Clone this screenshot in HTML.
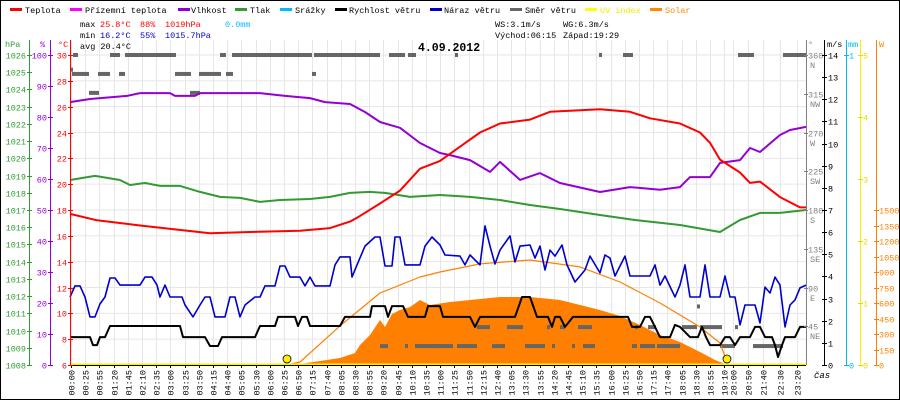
<!DOCTYPE html>
<html><head><meta charset="utf-8"><style>
html,body{margin:0;padding:0;background:#fff}
svg{display:block;font-family:"Liberation Mono","DejaVu Sans Mono",monospace}
</style></head><body>
<svg id="chart" width="900" height="400" viewBox="0 0 900 400" xmlns="http://www.w3.org/2000/svg">
<rect x="0.5" y="0.5" width="899" height="399" fill="#fff" stroke="#000"/>
<g id="grid"></g>
<g id="marks"></g>
<g id="axes"></g>
<g font-size="8.5">
 <g><rect x="10" y="8" width="12" height="3" fill="#f00"/><text x="25" y="13">Teplota</text></g>
 <g><rect x="70" y="8" width="12" height="3" fill="#f0f"/><text x="85" y="13">Přízemní teplota</text></g>
 <g><rect x="178" y="8" width="12" height="3" fill="#9400d3"/><text x="191" y="13">Vlhkost</text></g>
 <g><rect x="235" y="8" width="12" height="3" fill="#393"/><text x="250" y="13">Tlak</text></g>
 <g><rect x="280" y="8" width="12" height="3" fill="#0bf"/><text x="295" y="13">Srážky</text></g>
 <g><rect x="335" y="8" width="12" height="3" fill="#000"/><text x="349" y="13">Rychlost větru</text></g>
 <g><rect x="430" y="8" width="12" height="3" fill="#00c"/><text x="444" y="13">Náraz větru</text></g>
 <g><rect x="510" y="8" width="12" height="3" fill="#666"/><text x="525" y="13">Směr větru</text></g>
 <g><rect x="585" y="8" width="12" height="3" fill="#ff0"/><text x="600" y="13" fill="#ee0">UV index</text></g>
 <g><rect x="650" y="8" width="12" height="3" fill="#f80"/><text x="665" y="13" fill="#f80">Solar</text></g>
</g>
<g font-size="8.5">
 <text x="80" y="27">max</text>
 <text x="100" y="27" fill="#f00">25.8°C</text>
 <text x="140" y="27" fill="#f00">88%</text>
 <text x="165" y="27" fill="#f00">1019hPa</text>
 <text x="225" y="27" fill="#0bf">0.0mm</text>
 <text x="80" y="38">min</text>
 <text x="100" y="38" fill="#00c">16.2°C</text>
 <text x="140" y="38" fill="#00c">55%</text>
 <text x="165" y="38" fill="#00c">1015.7hPa</text>
 <text x="80" y="49">avg 20.4°C</text>
 <text x="495" y="27">WS:3.1m/s</text>
 <text x="563" y="27">WG:6.3m/s</text>
 <text x="495" y="38">Východ:06:15</text>
 <text x="563" y="38">Západ:19:29</text>
 <text x="418" y="51" font-size="11.5" font-weight="bold">4.09.2012</text>
</g>
</svg>
<script>
// ---- data (time in sample units, 0..184) ----
const xLabels=["00:00","00:25","00:55","01:20","01:45","02:10","02:35","03:00","03:25","03:50","04:15","04:40","05:05","05:30","06:00","06:25","06:50","07:15","07:40","08:05","08:30","08:55","09:20","09:45","10:10","10:35","11:00","11:25","11:50","12:15","12:40","13:05","13:30","13:55","14:20","14:45","15:10","15:35","16:00","16:25","16:50","17:15","17:40","18:05","18:30","18:55","19:10","20:00","20:50","21:40","22:30","23:20"];
const tempT=[0,6.75,17.5,26.25,35,45,57.5,65,70,71.75,77.5,82.5,87.5,92.5,97.5,102.5,107.5,115,120,132.5,140,145,152.5,157.5,160,162.5,167.5,170,172.5,177.5,182.5,184];
const tempV=[17.7,17.2,16.8,16.5,16.2,16.3,16.4,16.6,17.1,17.4,18.5,19.5,21.2,21.8,22.9,24.0,24.7,25.0,25.6,25.8,25.6,25.1,24.7,24.0,23.2,21.9,20.9,20.1,20.2,19.0,18.2,18.2];
const humT=[0,5,14.25,17.5,25,26.25,31.25,32.5,47.5,53.75,60,63.75,70,73.75,77.5,82.5,87.5,92.5,95,100,105,107.5,112.5,117.5,122.5,132.5,140,147.5,152.5,155,160,162.5,167.5,170,172.5,177.5,180,184];
const humV=[84.8,85.8,86.8,87.7,87.7,86.8,86.8,87.7,87.7,86.8,86.1,84.8,84.2,81.6,78.4,76.5,71.6,68.4,67.7,66.1,62.3,65.5,59.7,61.9,58.7,55.8,57.4,56.5,57.4,60.6,60.6,65.2,66.1,70,68.7,74.2,75.8,76.8];
const presT=[0,6.25,12.5,15,18.75,22.5,27.5,32.5,37.5,42.5,47.5,52.5,60,65,70,75,78.75,85,92.5,100,107.5,115,122.5,132.5,137.5,141.25,152.5,162.5,167.5,172.5,177.5,184];
const presV=[1018.74,1018.98,1018.74,1018.45,1018.57,1018.4,1018.4,1018.05,1017.76,1017.7,1017.47,1017.58,1017.64,1017.76,1017.99,1018.05,1017.99,1017.76,1017.87,1017.76,1017.58,1017.29,1017.06,1016.71,1016.54,1016.42,1016.13,1015.72,1016.42,1016.83,1016.83,1017.0];
const gustT=[0,1.25,2.5,3.75,5,6.25,7.5,8.75,10,11.25,12.5,17.5,18.75,20.5,21.75,22.5,23.75,25,28,28.75,30.75,32.5,33.75,35,36.25,38.75,40,41.25,42.5,43.75,46.25,47.5,48.75,51.25,52.5,53.75,55,57.5,58.75,60,61.25,65,66.25,67.5,70,70.5,71.75,73.75,76.25,77.5,78.75,80.5,81.25,82.5,83.75,87.5,88.75,90.5,92.5,93.75,97.5,98.75,100,102.5,103.75,105,106.25,107.5,110,111.25,112.5,115,116.25,117.5,118.75,120,121.25,123,124.25,126.25,128.75,130,132.5,133.75,135,136.25,138.75,140,145,146.25,147.5,148.75,151.25,152.5,153.75,155,157.5,158.75,160,162.5,163.75,165,166.25,167.5,168.75,171.25,172.5,173.75,175,176.25,177.5,178.75,180,181.25,182.5,184];
const gustV=[3.07,3.57,3.57,3.07,2.17,2.17,2.76,3.07,3.93,3.93,3.61,3.61,3.97,3.97,3.61,3.07,3.61,3.07,3.07,2.71,2.17,2.71,3.07,3.07,2.17,2.17,3.07,3.07,2.17,2.71,3.07,3.07,3.57,3.57,4.47,4.47,3.97,3.97,3.57,3.97,3.57,3.57,4.52,4.88,4.88,3.97,4.52,5.37,5.78,5.78,4.47,4.47,5.78,5.78,4.52,4.52,5.37,5.78,5.42,4.97,4.92,4.52,4.97,4.52,6.28,5.37,4.56,5.19,5.83,4.65,5.37,5.42,4.83,5.37,4.29,5.19,4.92,5.42,4.52,3.75,4.29,4.92,4.16,4.97,4.83,4.02,4.92,4.02,4.02,4.52,3.61,4.02,3.07,3.61,4.52,3.07,3.07,4.52,3.07,3.07,4.02,3.07,3.07,1.81,2.71,2.71,1.9,3.52,3.25,3.97,3.61,1.72,2.71,2.94,3.48,3.61];
const windT=[0,5,5.75,6.75,7.5,8.75,10,27.5,28.25,33.75,35,37,38,46.25,47.5,51.25,52,56.25,57,58,59.25,60,67.5,68.75,75,75.5,78.75,79.5,80.5,83.25,84.5,88.75,89.5,92.5,93.25,100,101.25,102.5,111.25,113,115,116.75,119.5,120.5,121.25,122.5,123.75,125.75,139.5,140.5,142.5,143.75,145,146.25,147.5,150,151.25,152.5,155,157,158,159,160,162.5,163.75,165,166.25,167.5,170,171.25,172.5,173.75,175.5,176.25,177,178,178.75,181.25,182.5,184];
const windV=[1.26,1.26,0.9,0.9,1.26,1.26,1.76,1.76,1.26,1.26,0.86,0.86,1.26,1.26,1.76,1.76,2.17,2.17,1.76,2.17,2.17,1.76,1.76,2.17,2.17,2.66,2.66,2.17,2.66,2.66,2.17,2.17,2.66,2.66,2.17,2.17,1.72,2.17,2.17,3.07,3.07,2.17,2.17,1.72,2.17,2.17,1.72,2.17,2.17,1.72,1.72,2.17,2.17,1.72,1.26,1.26,1.81,1.72,1.26,1.26,1.72,1.26,0.9,0.9,1.26,1.26,0.9,1.26,1.26,1.72,1.72,1.26,1.26,0.9,0.36,0.9,1.26,1.26,1.72,1.72];
const solarT=[57.5,62.5,67.5,71.25,72.5,73.75,75,77.5,78.75,80.5,82.5,85,87.5,90,95,100,107.5,115,122.5,127.5,132.5,137.5,142.5,147.5,152.5,157.5,161.25,163.75];
const solarV=[10,39,68,116,194,242,290,436,368,494,532,561,629,581,610,629,658,658,629,581,532,474,387,290,223,126,48,10];
const clearT=[54.25,57.5,67.5,77.5,87.5,92.5,102.5,115,127.5,137.5,147.5,157.5,162.5,164.25];
const clearV=[0,29,378,697,852,900,978,1016,949,803,600,368,213,29];
const dirStart=[0,0.75,10,13.75,37.5,40.5,61,79.75,84.5,96.25,132.25,138.25,167,178.25,0.5,7,12.25,26.25,32.25,39,60.5,4.75,30,77.5,83.75,86.25,90,96.75,105.5,113.75,120.5,125.5,128.25,140.5,142.5,146.75,162.5,170.75,101.75,109.25,119.25,122.5,127,141.25,144.5,153,157.5,166.25,156.75];
const dirEnd=[0.5,2,12.5,26.5,39,60.5,77.5,83.75,86.5,97,133,140.75,171,184,4.75,10,13.75,30.25,37.75,40.75,61.5,7.25,32.5,79.5,84.25,92.5,95.75,101.75,108.75,118.75,121.25,126.25,131.25,141.75,146.25,152.5,166.25,178.25,105,113.25,120,123.75,130.5,141.75,146.5,156.75,163,167,157.5];
const dirDeg=[343,360,360,360,360,360,360,360,360,360,360,360,360,360,338,338,338,338,338,338,338,316,316,22,22,22,22,22,22,22,22,22,22,22,22,22,22,22,44,44,44,44,44,44,44,44,44,44,68];
const sunEvents=[54.25,164.25];

// ---- scales ----
const X0=70,X1=806,Y0=55,Y1=365,H=Y1-Y0;
const xs=s=>X0+s*(X1-X0)/184;
const yT=v=>Y1-(v-6)*H/24, yH=v=>Y1-v*H/100, yP=v=>Y1-(v-1008)*H/18;
const yW=v=>Y1-v*H/14, yS=v=>Y1-v*H/3000, yD=v=>Y1-v*H/360, yUV=v=>Y1-v*H/5;
const NS="http://www.w3.org/2000/svg";
function mk(tag,attrs,parent){const e=document.createElementNS(NS,tag);for(const k in attrs)e.setAttribute(k,attrs[k]);parent.appendChild(e);return e;}
const grid=document.getElementById('grid'),marks=document.getElementById('marks'),axes=document.getElementById('axes');
const FS=8.5;

function labelSample(i){ if(i<=46) return 0.25+i*3.55; return [165.75,169.5,173.25,177.5,181.75][i-47]; }

for(let k=0;k<=12;k++){const y=Y0+k*H/12;
 const g=mk('line',{x1:X0,x2:X1,y1:y,y2:y,stroke:'#e6e6e6'},grid);
 
 }
xLabels.forEach((lab,i)=>{const x=Math.round(xs(labelSample(i)))+0.5;
 const g=mk('line',{x1:x,x2:x,y1:40,y2:Y1,stroke:'#e6e6e6'},grid);
 
 
 const tk=mk('line',{x1:x,x2:x,y1:Y1,y2:Y1+3,stroke:'#000'},axes);
 
 
 const t=mk('text',{x:0,y:0,'font-size':FS,'text-anchor':'end',transform:`translate(${x+3},370) rotate(-90)`},axes);
 t.textContent=lab;
 
 });

let sp=`M${xs(solarT[0])},${Y1} `+solarT.map((t,i)=>`L${xs(t)},${yS(solarV[i])}`).join(' ')+` L${xs(solarT[solarT.length-1])},${Y1} Z`;
const sa=mk('path',{d:sp,fill:'#ff8000'},marks);



dirDeg.forEach((d,i)=>{const x=xs(dirStart[i]),w=Math.max(3,xs(dirEnd[i])-x);
 const r=mk('rect',{x:x,y:yD(d)-2,width:w,height:4,fill:'#666'},marks);
 
 });

function line(T,V,yf,color,w,name){const d=T.map((t,i)=>(i?'L':'M')+xs(t).toFixed(1)+','+yf(V[i]).toFixed(1)).join(' ');
 const p=mk('path',{d:d,fill:'none',stroke:color,'stroke-width':w,'stroke-linejoin':'round'},marks);
 
 }
line(clearT,clearV,yS,'#ff8000',1.2,'solar-clear-sky-line');
line(presT,presV,yP,'#339933',2,'pressure-line');
line(humT,humV,yH,'#9400d3',2,'humidity-line');
line(tempT,tempV,yT,'#ff0000',2,'temperature-line');
line(gustT,gustV,yW,'#0000cc',1.6,'wind-gust-line');
line(windT,windV,yW,'#000000',2,'wind-speed-line');

const uv=mk('line',{x1:X0,x2:X1,y1:Y1-0.5,y2:Y1-0.5,stroke:'#ffee00','stroke-width':2},marks);


const bl=mk('line',{x1:X0,x2:X1,y1:Y1+0.5,y2:Y1+0.5,stroke:'#000'},marks);


sunEvents.forEach(t=>{const c=mk('circle',{cx:xs(t),cy:Y1-6,r:4,fill:'#ffee00',stroke:'#000','stroke-width':0.8},marks);
 
 });

function vaxis(x,color,name){const l=mk('line',{x1:x+0.5,x2:x+0.5,y1:40,y2:Y1,stroke:color},axes);
 
 }
function tick(x,y,color,label,anchor,lx,name){mk('line',{x1:x-2,x2:x+3,y1:y+0.5,y2:y+0.5,stroke:color},axes);
 const t=mk('text',{x:lx,y:y+3.5,'font-size':FS,fill:color,'text-anchor':anchor},axes);t.textContent=label;
 
 }
function header(x,txt,color,name){const t=mk('text',{x:x,y:47,'font-size':FS,fill:color},axes);t.textContent=txt;
 
 }
vaxis(29,'#339933','pressure-axis');vaxis(50,'#9400d3','humidity-axis');vaxis(70,'#ff0000','temperature-axis');
header(5,'hPa','#339933','pressure-axis-title');header(40,'%','#9400d3','humidity-axis-title');header(58,'°C','#ff0000','temperature-axis-title');
for(let p=1008;p<=1026;p++)tick(29,Math.round(yP(p)),'#339933',String(p),'end',26,'pressure-tick-label');
for(let h=0;h<=100;h+=10)tick(50,Math.round(yH(h)),'#9400d3',String(h),'end',47,'humidity-tick-label');
for(let c=6;c<=30;c+=2)tick(70,Math.round(yT(c)),'#ff0000',String(c),'end',67,'temperature-tick-label');
vaxis(806,'#808080','wind-direction-axis');vaxis(824,'#000','wind-speed-axis');vaxis(846,'#00bbee','rain-axis');vaxis(860,'#ffee00','uv-axis');vaxis(876,'#ff8000','solar-axis');
header(808,'°','#808080','wind-direction-axis-title');header(827,'m/s','#000','wind-speed-axis-title');header(848,'mm','#00bbee','rain-axis-title');header(879,'W','#ff8000','solar-axis-title');
const dirNames=['','NE','E','SE','S','SW','W','NW','N'];
for(let d=45;d<=360;d+=45){const y=Math.round(yD(d));mk('line',{x1:804,x2:808,y1:y+0.5,y2:y+0.5,stroke:'#808080'},axes);
 const t=mk('text',{x:808,y:y+3.5,'font-size':FS,fill:'#808080'},axes);t.textContent=String(d);
 
 
 const t2=mk('text',{x:810,y:y+13,'font-size':FS,fill:'#808080'},axes);t2.textContent=dirNames[d/45];
 
 }
for(let w=0;w<=14;w++)tick(824,Math.round(yW(w)),'#000',String(w),'start',828,'wind-speed-tick-label');
tick(846,Y0,'#00bbee','1','start',849,'rain-tick-label');tick(846,Y1,'#00bbee','0','start',849,'rain-tick-label');
for(let u=0;u<=5;u++)tick(860,Math.round(yUV(u)),'#e8d800',String(u),'start',863,'uv-tick-label');
for(let s=0;s<=1500;s+=150)tick(876,Math.round(yS(s)),'#ff8000',String(s),'start',879,'solar-tick-label');
const cas=mk('text',{x:814,y:378,'font-size':9,'font-style':'italic'},axes);cas.textContent='čas';


</script>
</body></html>
